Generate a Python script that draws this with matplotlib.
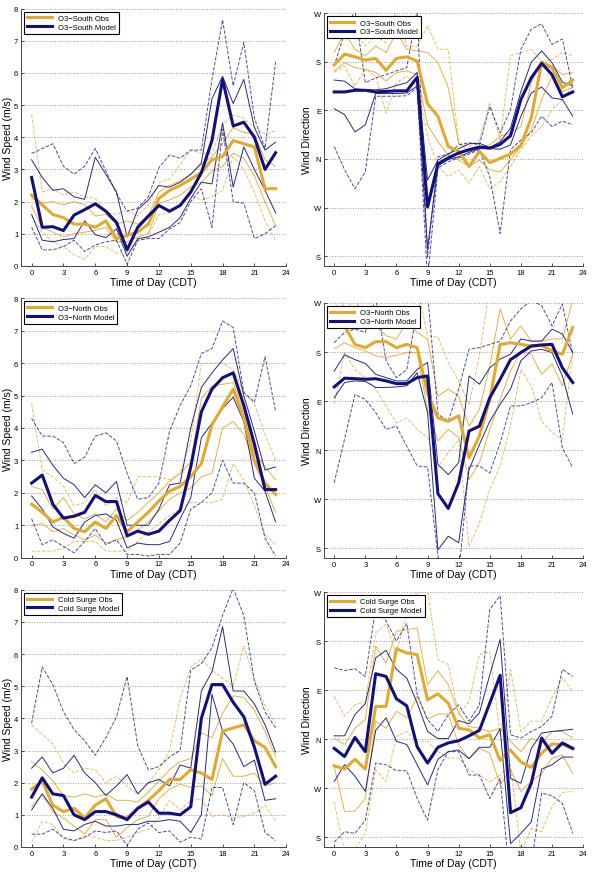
import numpy as np
import matplotlib.pyplot as plt

plt.rcParams['font.family'] = ['Liberation Sans', 'DejaVu Sans']

hours = np.arange(24)

# ---------------- O3-South ----------------
# wind speed (m/s): mean, +-1 std (thin), min/max (dashed)
s_spd_obs = [2.2, 1.9, 1.6, 1.5, 1.3, 1.3, 1.2, 1.4, 0.85, 0.95, 1.05, 1.3, 2.1, 2.35, 2.5, 2.7, 2.9, 3.3, 3.4, 3.9, 3.8, 3.7, 2.4, 2.4]
s_spd_obs_hi = [2.1, 1.95, 2.0, 1.9, 2.0, 1.9, 1.55, 1.6, 1.3, 1.4, 1.3, 1.55, 2.3, 2.5, 2.65, 2.85, 3.15, 3.4, 3.8, 4.3, 4.15, 4.1, 3.3, 3.1]
s_spd_obs_lo = [1.85, 1.2, 1.05, 0.9, 1.0, 1.05, 1.1, 1.2, 0.75, 0.75, 0.9, 1.0, 1.95, 2.05, 2.2, 2.45, 2.6, 2.95, 3.1, 3.5, 3.35, 2.8, 2.0, 1.25]
s_spd_obs_max = [4.7, 2.3, 2.4, 2.2, 2.3, 2.15, 2.1, 1.65, 1.6, 1.75, 1.55, 1.9, 2.6, 2.7, 3.15, 3.6, 3.5, 3.5, 4.4, 4.7, 4.6, 4.3, 4.1, 4.2]
s_spd_obs_min = [1.55, 1.05, 0.75, 0.6, 0.35, 0.2, 0.6, 0.6, 0.4, 0.4, 0.75, 0.95, 1.6, 1.65, 1.9, 2.2, 2.05, 2.15, 2.35, 3.4, 3.0, 2.3, 1.4, 0.8]
s_spd_mod = [2.75, 1.2, 1.22, 1.1, 1.58, 1.75, 1.93, 1.7, 1.35, 0.5, 1.2, 1.55, 1.88, 1.7, 1.88, 2.3, 2.9, 3.9, 5.8, 4.35, 4.47, 4.0, 3.0, 3.52]
s_spd_mod_hi = [3.3, 2.75, 2.35, 2.4, 2.15, 2.07, 3.38, 2.85, 2.3, 0.9, 1.75, 2.05, 2.5, 2.45, 2.6, 2.85, 3.2, 5.2, 5.9, 5.05, 5.8, 4.3, 3.6, 3.85]
s_spd_mod_lo = [1.6, 0.8, 0.75, 0.82, 0.85, 1.4, 0.97, 0.88, 1.15, 0.3, 0.85, 0.9, 1.05, 1.2, 1.5, 2.1, 2.6, 2.55, 4.45, 2.45, 3.7, 3.0, 2.35, 1.65]
s_spd_mod_max = [3.5, 3.65, 3.8, 3.1, 2.85, 3.1, 3.65, 2.95, 2.25, 1.7, 1.8, 2.15, 3.05, 3.45, 3.35, 3.6, 3.6, 5.8, 7.65, 5.6, 6.95, 4.6, 3.65, 6.35]
s_spd_mod_min = [1.2, 0.5, 0.5, 0.6, 0.8, 0.45, 0.65, 0.75, 0.8, 0.05, 0.8, 0.85, 0.85, 1.15, 1.35, 2.0, 2.4, 1.2, 4.25, 2.0, 1.95, 0.85, 1.0, 1.25]

# wind direction (deg, N = 0)
s_dir_obs = [174, 194, 189, 183, 186, 164, 186, 189, 181, 102, 79, 23, 14, -14, 14, -7, 1, 9, 25, 76, 178, 169, 132, 146]
s_dir_obs_hi = [197, 234, 203, 191, 209, 197, 234, 203, 200, 197, 178, 132, 29, 14, 23, 26, 42, 48, 60, 141, 181, 172, 156, 160]
s_dir_obs_lo = [163, 178, 169, 166, 160, 144, 160, 163, 156, 63, 32, 7, -2, -14, -2, -20, -24, -2, 23, 54, 110, 153, 125, 132]
s_dir_obs_max = [259, 253, 234, 209, 228, 215, 275, 209, 209, 246, 203, 203, 29, 23, 35, 104, 35, 191, 197, 203, 181, 184, 197, 191]
s_dir_obs_min = [160, 172, 135, 166, 153, 85, 141, 153, 135, 42, -14, -33, -20, -45, -14, -55, -42, -14, 17, 42, 60, 91, 110, 135]
s_dir_mod = [124, 124, 127, 127, 124, 125, 126, 126, 151, -89, -9, 2, 11, 17, 22, 20, 27, 43, 110, 150, 177, 156, 115, 124]
s_dir_mod_hi = [146, 144, 130, 128, 128, 130, 136, 141, 160, -39, -2, 9, 19, 28, 29, 21, 32, 57, 125, 179, 200, 178, 142, 135]
s_dir_mod_lo = [93, 82, 50, 63, 121, 121, 121, 122, 135, -166, -13, -1, 4, 12, 19, 19, 18, 26, 79, 122, 133, 113, 110, 79]
s_dir_mod_max = [172, 234, 275, 141, 150, 156, 163, 169, 275, -182, 4, 9, 26, 30, 26, 97, 48, 91, 203, 240, 250, 212, 222, 132]
s_dir_mod_min = [23, -20, -55, -24, 116, 116, 116, 117, 132, -225, -17, -5, 2, 9, 17, -33, -138, 17, 35, 48, 79, 60, 70, 63]

# ---------------- O3-North ----------------
n_spd_obs = [1.65, 1.4, 1.1, 1.25, 0.9, 0.8, 1.1, 0.9, 1.3, 0.8, 1.1, 1.4, 1.75, 2.05, 2.2, 2.5, 2.9, 4.1, 4.65, 5.2, 4.3, 3.0, 2.3, 1.95]
n_spd_obs_hi = [2.2, 2.1, 1.5, 1.85, 1.35, 1.2, 1.35, 1.1, 1.5, 1.15, 1.4, 1.7, 2.0, 2.35, 2.6, 2.95, 4.9, 5.3, 5.35, 5.4, 4.5, 3.25, 2.8, 2.4]
n_spd_obs_lo = [1.0, 1.05, 0.8, 0.9, 0.7, 0.55, 0.7, 0.45, 0.55, 0.65, 0.85, 1.1, 1.45, 1.8, 2.0, 2.15, 2.5, 2.6, 4.0, 4.2, 3.8, 2.9, 2.2, 1.4]
n_spd_obs_max = [4.75, 2.7, 2.5, 2.2, 1.6, 1.7, 2.1, 1.6, 1.85, 1.7, 2.5, 2.5, 2.5, 2.4, 2.6, 3.6, 6.0, 6.0, 6.0, 5.8, 5.1, 4.75, 3.8, 3.0]
n_spd_obs_min = [0.2, 0.2, 0.2, 0.3, 0.5, 0.5, 0.5, 0.2, 0.2, 0.2, 0.5, 0.8, 1.05, 1.3, 1.5, 1.7, 1.7, 1.7, 1.8, 2.9, 2.4, 1.6, 0.7, 0.4]
n_spd_mod = [2.3, 2.55, 1.65, 1.22, 1.28, 1.4, 1.92, 1.73, 1.73, 0.67, 0.82, 0.72, 0.82, 1.15, 1.45, 2.8, 4.5, 5.2, 5.55, 5.7, 4.7, 3.5, 2.1, 2.1]
n_spd_mod_hi = [3.25, 3.35, 2.85, 2.45, 2.25, 1.85, 2.25, 2.0, 2.35, 1.0, 1.0, 1.0, 1.5, 2.25, 2.3, 4.0, 5.25, 5.7, 6.1, 6.45, 5.0, 3.9, 2.7, 2.8]
n_spd_mod_lo = [1.9, 1.5, 0.95, 0.75, 0.6, 1.1, 1.3, 1.35, 1.15, 0.3, 0.45, 0.4, 0.4, 0.5, 1.2, 1.85, 3.7, 4.15, 4.6, 4.95, 4.2, 2.45, 2.05, 1.1]
n_spd_mod_max = [4.3, 3.75, 3.75, 3.55, 2.9, 3.1, 3.75, 3.85, 3.6, 2.6, 1.8, 1.85, 2.3, 3.9, 4.7, 5.3, 6.3, 6.45, 7.3, 7.1, 5.1, 4.8, 6.2, 4.5]
n_spd_mod_min = [1.2, 0.4, 0.55, 0.35, 0.15, 0.5, 0.9, 0.4, 0.55, 0.1, 0.1, 0.05, 0.1, 0.1, 0.45, 1.5, 1.7, 2.0, 3.0, 2.3, 2.3, 2.0, 0.6, 0.05]

n_dir_obs = [246, 228, 194, 188, 199, 199, 188, 194, 188, 105, 59, 53, 63, -14, 26, 93, 194, 197, 194, 191, 192, 182, 176, 225]
n_dir_obs_hi = [222, 275, 275, 246, 228, 210, 204, 234, 216, 204, 99, 112, 99, 44, 75, 154, 259, 204, 228, 200, 200, 204, 204, 275]
n_dir_obs_lo = [186, 197, 188, 182, 173, 170, 174, 179, 179, 75, 17, 38, 23, -54, -23, 38, 93, 145, 182, 176, 139, 158, 118, 176]
n_dir_obs_max = [275, 234, 300, 300, 300, 300, 300, 300, 300, 210, 207, 161, 127, 84, 173, 300, 300, 300, 300, 300, 300, 300, 300, 300]
n_dir_obs_min = [84, 179, 148, 133, 112, 81, 50, 59, 38, 23, -32, -5, 20, -177, -134, -72, -29, 44, 148, 118, 53, 32, 20, 182]
n_dir_mod = [116, 132, 131, 130, 131, 127, 122, 122, 133, 136, -80, -107, -60, 35, 44, 96, 130, 166, 179, 191, 193, 194, 151, 124]
n_dir_mod_hi = [145, 175, 166, 159, 139, 133, 127, 127, 148, 161, -26, -45, -23, 136, 121, 151, 167, 176, 204, 200, 200, 222, 213, 179]
n_dir_mod_lo = [96, 124, 127, 126, 115, 115, 116, 118, 142, 69, -183, -158, -170, -36, 10, 53, 84, 112, 164, 182, 185, 179, 136, 66]
n_dir_mod_max = [197, 216, 222, 216, 280, 164, 133, 148, 259, 290, 66, 53, 112, 185, 188, 194, 200, 237, 259, 275, 265, 228, 268, 176]
n_dir_mod_min = [-60, 20, 102, 93, 69, 38, 44, 7, -29, -31, -195, -230, -230, -29, -29, -42, 13, 81, 81, 87, 96, 124, 4, -32]

# ---------------- Cold Surge ----------------
c_spd_obs = [1.8, 2.05, 1.3, 1.1, 1.2, 0.9, 1.3, 1.5, 0.95, 0.9, 1.2, 1.45, 1.75, 2.1, 2.1, 2.4, 2.3, 2.1, 3.6, 3.7, 3.8, 3.3, 3.1, 2.5]
c_spd_obs_hi = [2.65, 2.4, 2.05, 1.6, 1.55, 1.65, 1.55, 1.65, 1.45, 1.45, 1.4, 1.7, 2.05, 2.4, 2.65, 2.75, 3.55, 3.4, 4.15, 4.7, 4.65, 4.25, 3.6, 2.8]
c_spd_obs_lo = [1.25, 1.65, 1.1, 0.9, 0.65, 0.4, 0.85, 0.85, 0.3, 0.6, 0.85, 0.95, 1.5, 1.8, 1.95, 1.85, 1.9, 1.6, 2.75, 2.2, 2.2, 2.3, 1.9, 2.0]
c_spd_obs_max = [3.8, 3.5, 3.2, 2.6, 2.3, 2.45, 2.4, 2.0, 2.2, 1.9, 1.65, 2.0, 2.4, 3.0, 4.6, 5.6, 5.85, 5.5, 5.25, 5.0, 6.25, 5.2, 4.4, 3.85]
c_spd_obs_min = [0.15, 0.8, 0.7, 0.25, 0.2, 0.35, 0.3, 0.2, 0.2, 0.3, 0.45, 0.55, 0.9, 1.45, 1.15, 1.45, 1.5, 0.95, 1.0, 0.9, 0.95, 1.05, 1.3, 0.8]
c_spd_mod = [1.55, 2.15, 1.65, 1.6, 1.0, 0.85, 1.1, 1.1, 1.0, 0.85, 1.2, 1.4, 1.05, 1.05, 1.0, 1.25, 4.0, 5.05, 5.05, 4.5, 4.05, 3.1, 1.95, 2.2]
c_spd_mod_hi = [2.45, 2.8, 2.3, 2.45, 2.85, 2.3, 2.0, 1.6, 1.9, 2.25, 1.65, 2.0, 2.1, 1.9, 2.55, 2.45, 4.85, 5.45, 6.85, 4.85, 4.85, 4.45, 3.8, 2.95]
c_spd_mod_lo = [1.15, 1.65, 1.2, 0.55, 0.5, 0.7, 0.8, 0.65, 0.65, 0.7, 0.7, 0.8, 0.8, 0.85, 0.8, 0.45, 1.0, 4.75, 3.6, 3.2, 2.5, 2.7, 1.45, 1.5]
c_spd_mod_max = [3.85, 5.6, 5.05, 4.2, 3.65, 3.3, 2.85, 3.4, 4.05, 5.3, 3.15, 2.4, 2.5, 2.8, 3.0, 5.5, 5.7, 6.2, 7.2, 8.05, 7.2, 5.15, 4.2, 3.7]
c_spd_mod_min = [0.4, 0.4, 0.55, 0.3, 0.2, 0.3, 0.5, 0.45, 0.5, 0.05, 0.55, 0.75, 0.45, 0.5, 0.15, 0.3, 0.25, 1.85, 1.85, 0.7, 2.0, 1.75, 0.45, 0.2]

c_dir_obs = [-49, -55, -37, -55, 60, 60, 166, 158, 155, 72, 83, 66, 20, 17, 2, 8, -39, -20, -42, -52, -26, -9, -10, -18]
c_dir_obs_hi = [2, -10, 20, 36, 171, 139, 198, 201, 204, 100, 125, 100, 48, 23, 20, 14, 20, -4, -23, 2, -7, 14, 14, 2]
c_dir_obs_lo = [-50, -133, -132, -109, 33, 20, 51, 39, 79, 36, 46, 46, -10, -36, -17, -26, -84, -56, -96, -78, -63, -35, -29, -63]
c_dir_obs_max = [79, 42, 63, 68, 195, 211, 155, 235, 269, 272, 146, 137, 45, 69, 155, 161, 8, 128, 14, 33, 33, 76, 112, 88]
c_dir_obs_min = [-115, -207, -201, -173, -56, -78, 5, 14, -4, -4, -23, -35, -35, -56, -66, -78, -66, -47, -207, -164, -170, -124, -98, -96]
c_dir_mod = [-17, -32, 3, -23, 120, 115, 74, 61, -14, -44, -15, -7, -3, 6, 16, 66, 117, -135, -126, -81, 2, -26, -7, -17]
c_dir_mod_hi = [6, 6, 45, 65, 149, 163, 128, 112, 66, 14, 1, 1, 34, 28, 48, 118, 183, -72, -81, -17, 11, 14, 16, 18]
c_dir_mod_lo = [-78, -47, -68, -96, 16, 39, -4, -10, -47, -84, -37, -23, -20, -36, -15, -15, 19, -192, -173, -152, -55, -47, -33, -33]
c_dir_mod_max = [131, 126, 129, 115, 241, 217, 180, 212, 82, 36, 14, 45, 63, 33, 63, 238, 263, 8, 2, 14, 23, 42, 128, 115]
c_dir_mod_min = [-189, -170, -173, -149, -44, -47, -58, -58, -109, -149, -56, -23, -23, -66, -66, -109, -72, -268, -250, -230, -99, -104, -118, -173]

dir_ticks = [-180, -90, 0, 90, 180, 270]
dir_labels = ['S', 'W', 'N', 'E', 'S', 'W']

obs_color = '#e3a92b'
mod_color = '#10107e'

fig = plt.figure(figsize=(5.92, 8.78), dpi=100)

# axes positions (left, bottom, width, height) in figure fraction
pos_left = [[0.0355, 0.696, 0.448, 0.293],
            [0.0355, 0.3637, 0.448, 0.2954],
            [0.0355, 0.0342, 0.448, 0.293]]
pos_right = [[0.547, 0.696, 0.438, 0.288],
             [0.547, 0.3633, 0.438, 0.2905],
             [0.547, 0.0342, 0.438, 0.2904]]

def draw(ax, obs, mod, label, direction):
    o_mean, o_hi, o_lo, o_max, o_min = obs
    m_mean, m_hi, m_lo, m_max, m_min = mod
    for lines, c in [(obs, obs_color), (mod, mod_color)]:
        ax.plot(hours, lines[3], '--', color=c, lw=0.7, alpha=0.75)
        ax.plot(hours, lines[4], '--', color=c, lw=0.7, alpha=0.75)
        ax.plot(hours, lines[1], '-', color=c, lw=0.7, alpha=0.9)
        ax.plot(hours, lines[2], '-', color=c, lw=0.7, alpha=0.9)
    ax.plot(hours, o_mean, color=obs_color, lw=2.2, label=label + ' Obs')
    ax.plot(hours, m_mean, color=mod_color, lw=2.2, label=label + ' Model')

    ax.set_xlim(-1, 24)
    ax.set_xticks(np.arange(0, 25, 3))
    if direction:
        ax.set_ylim(-198, 270)
        ax.set_yticks(dir_ticks)
        ax.set_yticklabels(dir_labels)
        ax.set_ylabel('Wind Direction', fontsize=7.5, labelpad=1)
    else:
        ax.set_ylim(0, 8)
        ax.set_yticks(range(0, 9))
        ax.set_ylabel('Wind Speed (m/s)', fontsize=7.5, labelpad=1)
    ax.set_xlabel('Time of Day (CDT)', fontsize=7.5, labelpad=1)
    ax.tick_params(direction='in', length=2.5, width=0.6, labelsize=5.5, pad=2,
                   colors='#333333', labelcolor='black')
    ax.grid(axis='y', linestyle=':', color='#999999', lw=0.7)
    for s in ['top', 'right']:
        ax.spines[s].set_visible(False)
    for s in ['left', 'bottom']:
        ax.spines[s].set_color('#444444')
        ax.spines[s].set_linewidth(0.7)
    leg = ax.legend(loc='upper left', fontsize=5.5, frameon=True, fancybox=False,
                    borderpad=0.4, handlelength=3.2, labelspacing=0.2,
                    borderaxespad=0.4)
    leg.get_frame().set_edgecolor('black')
    leg.get_frame().set_linewidth(0.8)
    leg.get_frame().set_alpha(1)

panels = [
    ('O3\u2212South',
     (s_spd_obs, s_spd_obs_hi, s_spd_obs_lo, s_spd_obs_max, s_spd_obs_min),
     (s_spd_mod, s_spd_mod_hi, s_spd_mod_lo, s_spd_mod_max, s_spd_mod_min),
     (s_dir_obs, s_dir_obs_hi, s_dir_obs_lo, s_dir_obs_max, s_dir_obs_min),
     (s_dir_mod, s_dir_mod_hi, s_dir_mod_lo, s_dir_mod_max, s_dir_mod_min)),
    ('O3\u2212North',
     (n_spd_obs, n_spd_obs_hi, n_spd_obs_lo, n_spd_obs_max, n_spd_obs_min),
     (n_spd_mod, n_spd_mod_hi, n_spd_mod_lo, n_spd_mod_max, n_spd_mod_min),
     (n_dir_obs, n_dir_obs_hi, n_dir_obs_lo, n_dir_obs_max, n_dir_obs_min),
     (n_dir_mod, n_dir_mod_hi, n_dir_mod_lo, n_dir_mod_max, n_dir_mod_min)),
    ('Cold Surge',
     (c_spd_obs, c_spd_obs_hi, c_spd_obs_lo, c_spd_obs_max, c_spd_obs_min),
     (c_spd_mod, c_spd_mod_hi, c_spd_mod_lo, c_spd_mod_max, c_spd_mod_min),
     (c_dir_obs, c_dir_obs_hi, c_dir_obs_lo, c_dir_obs_max, c_dir_obs_min),
     (c_dir_mod, c_dir_mod_hi, c_dir_mod_lo, c_dir_mod_max, c_dir_mod_min)),
]

for i, (name, so, sm, do, dm) in enumerate(panels):
    ax1 = fig.add_axes(pos_left[i])
    draw(ax1, so, sm, name, False)
    ax2 = fig.add_axes(pos_right[i])
    draw(ax2, do, dm, name, True)

fig.savefig('out.png', dpi=100)
